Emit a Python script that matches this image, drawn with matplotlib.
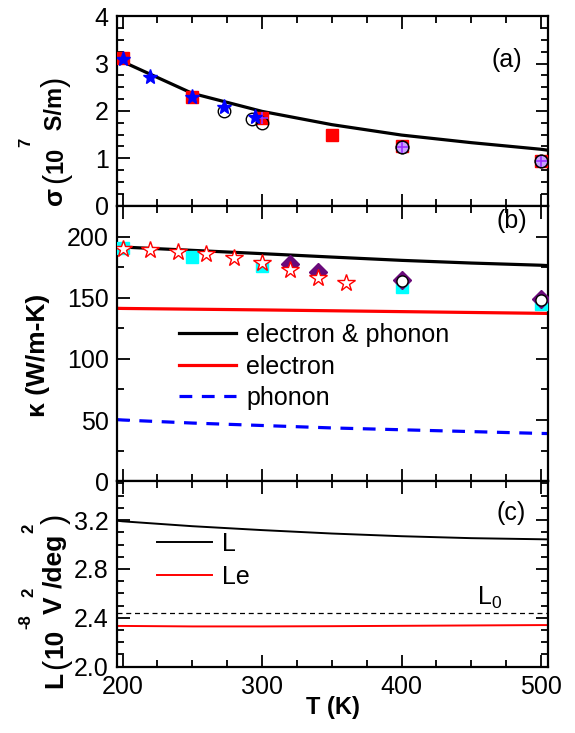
import matplotlib
matplotlib.use("Agg")
import matplotlib.pyplot as plt
from matplotlib.ticker import MultipleLocator, FormatStrFormatter

plt.rcParams['font.family'] = ['Liberation Sans', 'DejaVu Sans']
plt.rcParams['mathtext.fontset'] = 'custom'
plt.rcParams['mathtext.rm'] = 'Liberation Sans'
plt.rcParams['mathtext.bf'] = 'Liberation Sans:bold'

# --- panel (a): conductivity ---
T_fit = [196, 200, 250, 300, 350, 400, 450, 500, 505]
sigma_fit = [3.10, 3.04, 2.37, 1.99, 1.71, 1.49, 1.33, 1.19, 1.17]
T_sq = [200, 250, 300, 350, 400, 500]
sigma_sq = [3.11, 2.30, 1.85, 1.49, 1.25, 0.95]
T_star = [200, 220, 250, 273, 295]
sigma_star = [3.09, 2.72, 2.30, 2.08, 1.88]
T_circ = [273, 293, 300, 400, 500]
sigma_circ = [1.99, 1.83, 1.75, 1.24, 0.95]
T_plus = [300, 400, 500]
sigma_plus = [1.86, 1.24, 0.95]

# --- panel (b): thermal conductivity ---
T_k = [196, 200, 250, 300, 350, 400, 450, 500, 505]
k_total = [192.0, 191.7, 189.0, 186.3, 183.5, 180.8, 178.6, 176.8, 176.5]
k_elec = [141.5, 141.4, 140.8, 140.2, 139.5, 138.8, 138.1, 137.4, 137.3]
k_phon = [50.3, 50.0, 47.5, 45.5, 43.5, 42.0, 40.5, 39.0, 38.9]
T_ostar = [200, 220, 240, 260, 280, 300, 320, 340, 360]
k_ostar = [190.4, 189.0, 187.6, 186.3, 182.7, 179.0, 172.7, 166.4, 162.6]
T_cyan = [200, 250, 300, 400, 500]
k_cyan = [190.9, 183.5, 175.9, 158.6, 145.0]
T_diam = [320, 340, 400, 500]
k_diam = [178.1, 171.3, 164.5, 148.8]
T_kcirc = [400, 500]
k_kcirc = [163.5, 148.5]

# --- panel (c): Lorenz number ---
T_L = [196, 200, 250, 300, 350, 400, 450, 500, 505]
L_total = [3.195, 3.19, 3.15, 3.118, 3.09, 3.068, 3.052, 3.043, 3.042]
L_elec = [2.333, 2.333, 2.329, 2.329, 2.331, 2.334, 2.337, 2.340, 2.340]
L0 = 2.44

W, H = 575, 733
fig = plt.figure(figsize=(W / 100, H / 100), dpi=100)
gs = fig.add_gridspec(3, 1, height_ratios=[190, 276, 186], hspace=0,
                      left=0.2035, right=0.953, top=0.978, bottom=0.0906)
ax1 = fig.add_subplot(gs[0])
ax2 = fig.add_subplot(gs[1], sharex=ax1)
ax3 = fig.add_subplot(gs[2], sharex=ax1)

for ax in (ax1, ax2, ax3):
    ax.tick_params(which='both', direction='in', top=True, right=True,
                   labelsize=18, width=1.3, pad=6)
    ax.tick_params(which='major', length=9)
    ax.tick_params(which='minor', length=5)
    for s in ax.spines.values():
        s.set_linewidth(1.6)
    ax.xaxis.set_major_locator(MultipleLocator(100))
    ax.xaxis.set_minor_locator(MultipleLocator(25))
ax1.tick_params(labelbottom=False)
ax2.tick_params(labelbottom=False)
ax1.set_xlim(196, 505)

# (a)
ax1.plot(T_fit, sigma_fit, color='black', lw=2.3, zorder=2)
ax1.plot(T_sq, sigma_sq, 's', color='red', ms=9, zorder=3)
ax1.plot(T_circ, sigma_circ, 'o', mfc='none', mec='black', mew=1.0, ms=9, zorder=4)
ax1.plot(T_plus[1:], sigma_plus[1:], 'o', color='#c9a0ff', ms=8, zorder=4)
ax1.plot(T_plus, sigma_plus, '+', color='#9b30ff', ms=9, mew=1.2, zorder=5)
ax1.plot(T_plus[1:], sigma_plus[1:], 'o', mfc='none', mec='black', mew=1.0, ms=9, zorder=5)
ax1.plot(T_star, sigma_star, '*', color='blue', ms=11, zorder=6)
ax1.set_ylim(0, 4)
ax1.yaxis.set_major_locator(MultipleLocator(1))
ax1.yaxis.set_minor_locator(MultipleLocator(0.25))
ax1.text(0.905, 0.77, '(a)', transform=ax1.transAxes, fontsize=18, ha='center', va='center')

# (b)
ax2.plot(T_k, k_total, color='black', lw=2.3, label='electron & phonon', zorder=2)
ax2.plot(T_k, k_elec, color='red', lw=2.3, label='electron', zorder=2)
ax2.plot(T_k, k_phon, '--', color='blue', lw=2.3, dashes=(4, 3), label='phonon', zorder=2)
ax2.plot(T_cyan, k_cyan, 's', color='cyan', ms=9, zorder=3)
ax2.plot(T_diam, k_diam, 'D', color='#6a0a7a', ms=9, zorder=4)
ax2.plot(T_kcirc, k_kcirc, 'o', mfc='white', mec='black', mew=1.0, ms=8, zorder=5)
ax2.plot(T_ostar, k_ostar, '*', mfc='white', mec='red', mew=1.0, ms=13, zorder=6)
ax2.set_ylim(0, 225.6)
ax2.yaxis.set_major_locator(MultipleLocator(50))
ax2.yaxis.set_minor_locator(MultipleLocator(25))
ax2.set_ylabel('κ (W/m-K)', fontsize=19, fontweight='bold')
ax2.yaxis.set_label_coords(-0.155, 0.455)
ax2.text(0.915, 0.945, '(b)', transform=ax2.transAxes, fontsize=18, ha='center', va='center')
ax2.legend(loc='upper left', bbox_to_anchor=(0.12, 0.61), frameon=False, fontsize=18,
           handlelength=2.3, handletextpad=0.4, labelspacing=0.3, borderaxespad=0)

# (c)
ax3.plot(T_L, L_total, color='black', lw=1.4, label='L')
ax3.plot(T_L, L_elec, color='red', lw=1.4, label='Le')
ax3.axhline(L0, color='black', lw=0.9, ls=(0, (4, 3)))
ax3.text(463, 2.565, r'L$_{0}$', fontsize=18, ha='center', va='center')
ax3.set_ylim(2.0, 3.52)
ax3.yaxis.set_major_locator(MultipleLocator(0.4))
ax3.yaxis.set_minor_locator(MultipleLocator(0.1))
ax3.yaxis.set_major_formatter(FormatStrFormatter('%.1f'))
ax3.set_xlabel('T (K)', fontsize=17, fontweight='bold', labelpad=-2)
ax3.text(0.915, 0.83, '(c)', transform=ax3.transAxes, fontsize=18, ha='center', va='center')
ax3.legend(loc='upper left', bbox_to_anchor=(0.07, 0.78), frameon=False, fontsize=18,
           handlelength=2.2, handletextpad=0.4, labelspacing=0.35, borderaxespad=0)

# y labels with raised superscripts, built piece by piece
renderer = fig.canvas.get_renderer()


def vertical_label(pieces, x_base, y_bottom):
    # x_base: baseline x in pixels; y_bottom: image row where the label starts
    y = H - y_bottom
    for s, size, weight, lift in pieces:
        t = fig.text((x_base - lift) / W, y / H, s, rotation=90, rotation_mode='anchor',
                     ha='left', va='baseline', fontsize=size, fontweight=weight)
        y += t.get_window_extent(renderer).height


vertical_label([('σ', 19, 'bold', 0), (' ', 10, 'bold', 0), ('(', 22, 'normal', -2),
                ('10', 17, 'bold', 0), ('7', 12, 'bold', 32), (' S/m', 17, 'bold', 0),
                (')', 22, 'normal', -2)], 62, 205)
vertical_label([('L', 19, 'bold', 0), (' ', 8, 'bold', 0), ('(', 22, 'normal', -2),
                ('10', 19, 'bold', 0), ('-8', 12, 'bold', 32), ('V', 19, 'bold', 0),
                ('2', 12, 'bold', 29), ('/deg', 19, 'bold', 0), ('2', 12, 'bold', 29),
                (')', 22, 'normal', -2)], 62, 688)

fig.savefig('out.png', dpi=100)
